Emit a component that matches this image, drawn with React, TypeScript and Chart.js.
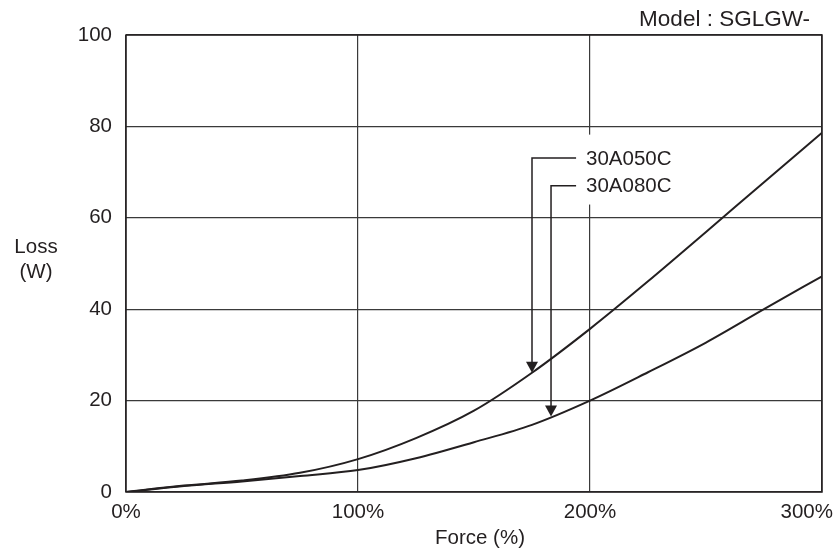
import React, { useEffect, useRef } from "react";
import { Chart, registerables } from "chart.js";

Chart.register(...registerables);

const forcePct = [0, 25, 50, 75, 100, 125, 150, 175, 200, 225, 250, 275, 300];
const loss050C = [0, 1.4, 2.5, 4.2, 7.2, 11.8, 17.8, 26.1, 35.7, 46.1, 56.9, 67.8, 78.6];
const loss080C = [0, 1.3, 2.3, 3.5, 4.8, 7.4, 10.9, 14.7, 20, 26.2, 32.7, 40, 47.2];
const seriesNames = ["30A050C", "30A080C"];
const arrowTipX = [175, 183.2];
const arrowTipY = [26.1, 16.5];
const leaderY = [73.1, 67.0];
const leaderEndX = 194;
const labelX = 198.3;
const gapX = 200;
const gapYTop = 78.2;
const gapYBottom = 62.9;
const xTicks = [0, 100, 200, 300];
const modelTitle = "Model : SGLGW-";
const xTitle = "Force (%)";
const yTitle = ["Loss", "(W)"];

const INK = "#231f20";
const GRID = "#3a3a3a";
const FAMILY = "'Liberation Sans', Arial, sans-serif";
const FONT = "20.5px " + FAMILY;

const overlay = {
  id: "overlay",
  beforeDatasetsDraw(chart: any) {
    const { ctx, scales } = chart;
    const x = scales.x, y = scales.y;
    ctx.save();
    ctx.fillStyle = "#ffffff";
    const gx = x.getPixelForValue(gapX);
    ctx.fillRect(gx - 2, y.getPixelForValue(gapYTop), 4, y.getPixelForValue(gapYBottom) - y.getPixelForValue(gapYTop));
    ctx.restore();
  },
  afterDraw(chart: any) {
    const { ctx, scales, chartArea } = chart;
    const x = scales.x, y = scales.y;
    ctx.save();
    ctx.strokeStyle = INK;
    ctx.lineWidth = 1.5;
    ctx.strokeRect(chartArea.left, chartArea.top, chartArea.right - chartArea.left, chartArea.bottom - chartArea.top);
    ctx.fillStyle = INK;
    ctx.font = FONT;
    ctx.textBaseline = "middle";
    ctx.textAlign = "center";
    const W = chart.width;
    xTicks.forEach((t) => {
      const label = t + "%";
      const w = ctx.measureText(label).width;
      let px = x.getPixelForValue(t);
      px = Math.min(px, W - 4 - w / 2);
      ctx.fillText(label, px, 512);
    });
    ctx.fillText(xTitle, 480, 538);
    ctx.fillText(yTitle[0], 36, 247);
    ctx.fillText(yTitle[1], 36, 272);
    ctx.textAlign = "right";
    ctx.font = "22.5px " + FAMILY;
    ctx.fillText(modelTitle, 810, 20);
    ctx.font = FONT;
    ctx.textAlign = "left";
    ctx.strokeStyle = INK;
    ctx.lineWidth = 1.5;
    seriesNames.forEach((name, i) => {
      const tx = x.getPixelForValue(arrowTipX[i]);
      const ty = y.getPixelForValue(arrowTipY[i]);
      const ly = y.getPixelForValue(leaderY[i]);
      const lx = x.getPixelForValue(leaderEndX);
      ctx.beginPath();
      ctx.moveTo(lx, ly);
      ctx.lineTo(tx, ly);
      ctx.lineTo(tx, ty - 10);
      ctx.stroke();
      ctx.beginPath();
      ctx.moveTo(tx - 6, ty - 11);
      ctx.lineTo(tx + 6, ty - 11);
      ctx.lineTo(tx, ty);
      ctx.closePath();
      ctx.fill();
      ctx.fillText(name, x.getPixelForValue(labelX), ly + 1);
    });
    ctx.restore();
  },
};

export default function App() {
  const ref = useRef<HTMLCanvasElement | null>(null);
  useEffect(() => {
    if (!ref.current) return;
    const chart = new Chart(ref.current, {
      type: "line",
      data: {
        datasets: [
          {
            label: seriesNames[0],
            data: forcePct.map((f, i) => ({ x: f, y: loss050C[i] })),
            borderColor: INK,
            borderWidth: 2,
            pointRadius: 0,
            cubicInterpolationMode: "monotone",
            fill: false,
          },
          {
            label: seriesNames[1],
            data: forcePct.map((f, i) => ({ x: f, y: loss080C[i] })),
            borderColor: INK,
            borderWidth: 2,
            pointRadius: 0,
            cubicInterpolationMode: "monotone",
            fill: false,
          },
        ],
      },
      options: {
        responsive: false,
        animation: false,
        layout: { padding: { top: 35, right: 15, left: 0, bottom: 0 } },
        plugins: { legend: { display: false }, title: { display: false }, tooltip: { enabled: false } },
        scales: {
          x: {
            type: "linear",
            min: 0,
            max: 300,
            ticks: { display: false, stepSize: 100 },
            grid: { color: GRID, lineWidth: 1.2, drawTicks: false },
            border: { display: false },
            afterFit: (s: any) => {
              s.height = 60;
              s.paddingLeft = 0;
              s.paddingRight = 0;
            },
          },
          y: {
            type: "linear",
            min: 0,
            max: 100,
            ticks: {
              stepSize: 20,
              color: INK,
              padding: 14,
              font: { family: FAMILY, size: 20.5 },
            },
            grid: { color: GRID, lineWidth: 1.2, drawTicks: false },
            border: { display: false },
            afterFit: (s: any) => {
              s.width = 126;
              s.paddingTop = 0;
              s.paddingBottom = 0;
            },
          },
        },
      },
      plugins: [overlay],
    });
    return () => chart.destroy();
  }, []);
  return (
    <div style={{ position: "absolute", left: 0, top: 0, width: 837, height: 552, background: "#fff" }}>
      <canvas ref={ref} width={837} height={552} />
    </div>
  );
}
